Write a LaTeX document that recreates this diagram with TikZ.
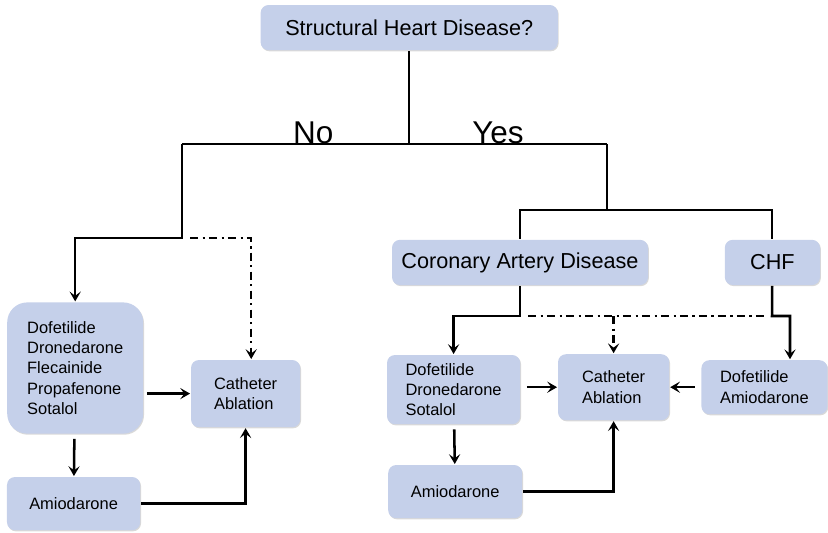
\documentclass[tikz,border=0pt]{standalone}
\usepackage{fontspec}
\setmainfont{Liberation Sans}
\usetikzlibrary{arrows.meta,shadows}

\definecolor{boxblue}{HTML}{C5D0EA}

\tikzset{
    box/.style={draw=none, fill=boxblue, rounded corners=0.2cm, align=left,
        drop shadow={opacity=0.3, shadow xshift=0.6pt, shadow yshift=-0.8pt}},
    bigtext/.style={font=\fontsize{15.4}{18}\selectfont},
    smalltext/.style={font=\fontsize{11.7}{14.5}\selectfont},
    flow/.style={line width=1.8pt},
    dashdot/.style={dash pattern=on 6pt off 3pt on 1.5pt off 3pt},
    >={Stealth[length=7pt, width=8pt, inset=3pt]}
}

\begin{document}
\begin{tikzpicture}[line width=1.4pt]
                \useasboundingbox (0,0) rectangle (20.7,-13.3);

                % Nodes
                \node[box, bigtext, minimum width=7.43cm, minimum height=1.13cm] (shd) at (10.23,-0.69) {Structural Heart Disease?};
                \node[box, bigtext, minimum width=6.4cm, minimum height=1.13cm] (cad) at (13.0,-6.56) {Coronary Artery Disease};
                \node[box, bigtext, minimum width=2.38cm, minimum height=1.13cm] (chf) at (19.31,-6.56) {CHF};
                \node[box, smalltext, rounded corners=0.5cm, minimum width=3.4cm, minimum height=3.28cm] (drugsNo) at (1.88,-9.2) {Dofetilide\\Dronedarone\\Flecainide\\Propafenone\\Sotalol};
                \node[box, smalltext, minimum width=2.73cm, minimum height=1.68cm] (cathNo) at (6.14,-9.84) {Catheter\\Ablation};
                \node[box, smalltext, minimum width=3.33cm, minimum height=1.33cm] (amioNo) at (1.84,-12.59) {Amiodarone};
                \node[box, smalltext, minimum width=3.33cm, minimum height=1.73cm] (drugsYes) at (11.34,-9.74) {Dofetilide\\Dronedarone\\Sotalol};
                \node[box, smalltext, minimum width=2.78cm, minimum height=1.65cm] (cathYes) at (15.34,-9.68) {Catheter\\Ablation};
                \node[box, smalltext, minimum width=3.15cm, minimum height=1.35cm] (drugsChf) at (19.11,-9.68) {Dofetilide\\Amiodarone};
                \node[box, smalltext, minimum width=3.35cm, minimum height=1.33cm] (amioYes) at (11.38,-12.29) {Amiodarone};

                % Labels
                \node[anchor=base, font=\fontsize{22.4}{26}\selectfont] (no) at (7.83,-3.575) {No};
                \node[anchor=base, font=\fontsize{22.4}{26}\selectfont] (yes) at (12.45,-3.575) {Yes};

                % Junctions
                \coordinate (split) at (10.23,-3.6);
                \coordinate (noEnd) at (4.55,-3.6);
                \coordinate (yesEnd) at (15.18,-3.6);
                \coordinate (noKnee) at (4.55,-5.95);
                \coordinate (yesKnee) at (15.18,-5.25);
                \coordinate (cadKnee) at (13.0,-7.9);
                \coordinate (chfKnee) at (19.3,-7.9);

                % Edges
                \draw (shd) -- (split);
                \draw (noEnd) -- (yesEnd);
                \draw[flow, ->] (noEnd) -- (noKnee) -| (drugsNo);
                \draw[flow, dashdot, ->] ([xshift=0.2cm]noKnee) -| ([xshift=0.14cm]cathNo.north);
                \draw[flow, ->, shorten <=2pt] (drugsNo.east |- cathNo.west) -- (cathNo.west);
                \draw[flow, ->, shorten <=3pt] (drugsNo) -- (amioNo);
                \draw[flow, ->] (amioNo) -| (cathNo);

                \draw (yesEnd) -- (yesKnee);
                \draw (cad) |- (yesKnee) -| (chf);
                \draw[flow, ->] (cad) -- (cadKnee) -| (drugsYes);
                \draw[flow, dashdot] ([xshift=0.2cm]cadKnee) -- ([xshift=-0.1cm]chfKnee);
                \draw[flow, dashdot, ->] (cathYes.north |- cadKnee) -- (cathYes);
                \draw[flow, ->] (chf) -- (chfKnee) -| ([xshift=0.64cm]drugsChf.north);
                \draw[flow, ->, shorten <=4pt] (drugsYes.east |- cathYes.west) -- (cathYes.west);
                \draw[flow, ->, shorten <=4pt] (drugsChf) -- (cathYes);
                \draw[flow, ->, shorten <=3pt] (drugsYes) -- (amioYes);
                \draw[flow, ->] (amioYes) -| (cathYes);
            \end{tikzpicture}
\end{document}
